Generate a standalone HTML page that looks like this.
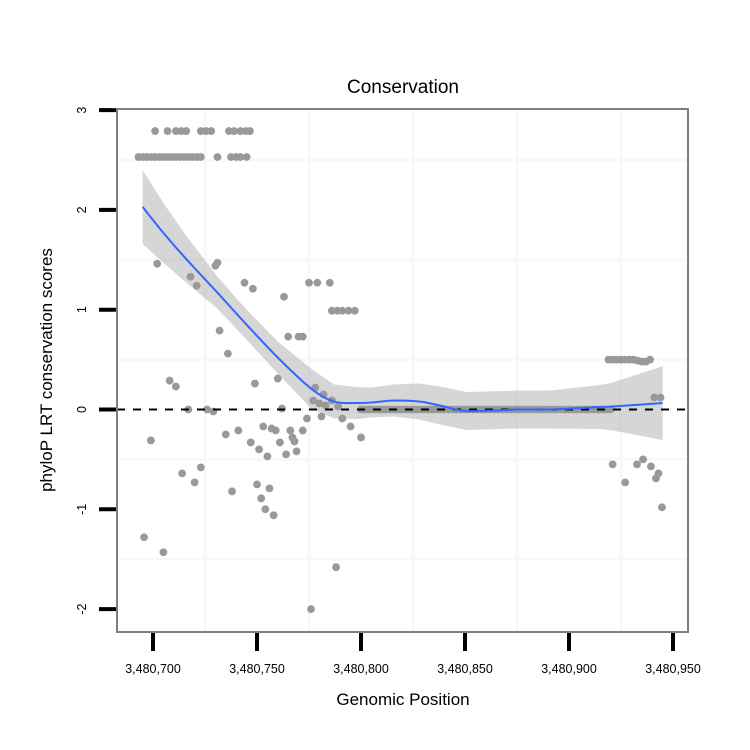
<!DOCTYPE html>
<html><head><meta charset="utf-8"><style>
body{margin:0;background:#fff;}
svg{display:block;font-family:"Liberation Sans",sans-serif;}
</style></head><body>
<svg id="chart" width="750" height="750"></svg>
<script>
const ptX=[3480693,3480695,3480697,3480699,3480701,3480703,3480705,3480707,3480709,3480711,3480713,3480715,3480717,3480719,3480721,3480723,3480731,3480737.5,3480740,3480742,3480745,
3480701,3480707,3480711,3480713.5,3480716,3480723,3480725.5,3480728,3480736.5,3480739,3480742,3480744.7,3480746.6,
3480702,3480730,3480731,3480718,3480721,3480744,3480748,3480763,3480775,3480779,3480785,3480786,3480788.5,3480791,3480794,3480797,3480732,3480736,3480765,3480770,3480772,
3480708,3480711,3480717,3480726,3480729,3480699,3480735,3480741,3480749,3480760,3480762,3480753,3480757,3480759,3480747,3480751,3480755,3480766,3480767,3480768,3480761,3480764,3480769,3480772,3480774,3480778,3480782,3480777,3480780,3480783,3480786,3480789,3480781,3480791,3480795,3480800,
3480723,3480714,3480720,3480738,3480750,3480756,3480752,3480754,3480758,3480695.7,3480705,3480788,3480776,
3480919,3480921,3480923,3480925,3480927,3480929,3480931,3480933,3480935,3480937,3480939,3480941,3480944,
3480921,3480932.7,3480935.6,3480939.4,3480943,3480941.8,3480927,3480944.7];
const ptY=[2.53,2.53,2.53,2.53,2.53,2.53,2.53,2.53,2.53,2.53,2.53,2.53,2.53,2.53,2.53,2.53,2.53,2.53,2.53,2.53,2.53,
2.79,2.79,2.79,2.79,2.79,2.79,2.79,2.79,2.79,2.79,2.79,2.79,2.79,
1.46,1.44,1.47,1.33,1.24,1.27,1.21,1.13,1.27,1.27,1.27,0.99,0.99,0.99,0.99,0.99,0.79,0.56,0.73,0.73,0.73,
0.29,0.23,0.0,0.0,-0.02,-0.31,-0.25,-0.21,0.26,0.31,0.01,-0.17,-0.19,-0.21,-0.33,-0.4,-0.47,-0.21,-0.28,-0.32,-0.33,-0.45,-0.42,-0.21,-0.09,0.22,0.15,0.09,0.06,0.04,0.09,0.03,-0.07,-0.09,-0.17,-0.28,
-0.58,-0.64,-0.73,-0.82,-0.75,-0.79,-0.89,-1.0,-1.06,-1.28,-1.43,-1.58,-2.0,
0.5,0.5,0.5,0.5,0.5,0.5,0.5,0.49,0.48,0.48,0.5,0.12,0.12,
-0.55,-0.55,-0.5,-0.57,-0.64,-0.69,-0.73,-0.98];
const zeroX=[3480800,3480802,3480804,3480806,3480808,3480810,3480812,3480814,3480816,3480818,3480820,3480822,3480824,3480826,3480828,3480830,3480832,3480834,3480836,3480838,3480840,3480842,3480844,3480846,3480848,3480850,3480852,3480854,3480856,3480858,3480860,3480862,3480864,3480866,3480868,3480870,3480872,3480874,3480876,3480878,3480880,3480882,3480884,3480886,3480888,3480890,3480892,3480894,3480896,3480898,3480900,3480902,3480904,3480906,3480908,3480910,3480912,3480914,3480916,3480918,3480920];
const smoothX=[3480695,3480705,3480715,3480731,3480745,3480760,3480776,3480787,3480798,3480805,3480816,3480828,3480838,3480851,3480876,3480891,3480915,3480921,3480945];
const smoothY=[2.03,1.77,1.53,1.17,0.85,0.52,0.21,0.08,0.065,0.07,0.09,0.08,0.04,-0.015,0.0,0.0,0.025,0.03,0.065];
const smoothSE=[0.37,0.3,0.24,0.16,0.15,0.16,0.2,0.17,0.16,0.15,0.16,0.18,0.19,0.19,0.19,0.19,0.22,0.24,0.37];
const xTicks=[3480700,3480750,3480800,3480850,3480900,3480950];
const xTickLabels=["3,480,700","3,480,750","3,480,800","3,480,850","3,480,900","3,480,950"];
const yTicks=[-2,-1,0,1,2,3];
const yTickLabels=["-2","-1","0","1","2","3"];

const NS="http://www.w3.org/2000/svg";
const svg=document.getElementById('chart');
const X=v=>153+(v-3480700)*2.08;
const Y=v=>409.5-v*99.8;
function mk(tag,attrs,parent){const e=document.createElementNS(NS,tag);for(const k in attrs)e.setAttribute(k,attrs[k]);(parent||svg).appendChild(e);return e;}
const L=117,T=109,R=688,B=632;
const grid=mk('g',{});


for(let i=0;i<xTicks.length-1;i++){const x=X((xTicks[i]+xTicks[i+1])/2);mk('line',{x1:x,x2:x,y1:T,y2:B,stroke:'#f8f8f8','stroke-width':3},grid);}
for(let i=0;i<yTicks.length-1;i++){const y=Y((yTicks[i]+yTicks[i+1])/2);mk('line',{x1:L,x2:R,y1:y,y2:y,stroke:'#f8f8f8','stroke-width':3},grid);}
const pts=mk('g',{fill:'#999'});


for(let i=0;i<ptX.length;i++){const c=mk('circle',{cx:X(ptX[i]),cy:Y(ptY[i]),r:3.9},pts);}
for(let i=0;i<zeroX.length;i++){const c=mk('circle',{cx:X(zeroX[i]),cy:Y(0),r:3.9},pts);}
let d='';
for(let i=0;i<smoothX.length;i++)d+=(i?'L':'M')+X(smoothX[i])+','+Y(smoothY[i]+smoothSE[i]);
for(let i=smoothX.length-1;i>=0;i--)d+='L'+X(smoothX[i])+','+Y(smoothY[i]-smoothSE[i]);
const band=mk('path',{d:d+'Z',fill:'#999','fill-opacity':0.4});


const hl=mk('line',{x1:L,x2:R,y1:Y(0),y2:Y(0),stroke:'#000','stroke-width':2,'stroke-dasharray':'8,8'});


const P=smoothX.map((x,i)=>[X(x),Y(smoothY[i])]);
let ld='M'+P[0][0]+','+P[0][1];
for(let i=0;i<P.length-1;i++){const p0=P[i-1]||P[i],p1=P[i],p2=P[i+1],p3=P[i+2]||p2;
ld+='C'+(p1[0]+(p2[0]-p0[0])/6)+','+(p1[1]+(p2[1]-p0[1])/6)+' '+(p2[0]-(p3[0]-p1[0])/6)+','+(p2[1]-(p3[1]-p1[1])/6)+' '+p2[0]+','+p2[1];}
const sl=mk('path',{d:ld,fill:'none',stroke:'#3366FF','stroke-width':2});


const bd=mk('rect',{x:L,y:T,width:R-L,height:B-T,fill:'none',stroke:'#7f7f7f','stroke-width':2});


for(let i=0;i<xTicks.length;i++){const x=X(xTicks[i]);
const t=mk('line',{x1:x,x2:x,y1:633,y2:651,stroke:'#000','stroke-width':4});


const tx=mk('text',{x:x,y:673,'text-anchor':'middle','font-size':12.5,fill:'#000'});tx.textContent=xTickLabels[i];

}
for(let i=0;i<yTicks.length;i++){const y=Y(yTicks[i]);
const t=mk('line',{x1:99,x2:116,y1:y,y2:y,stroke:'#000','stroke-width':4});


const tx=mk('text',{x:0,y:0,'text-anchor':'middle','font-size':12.5,fill:'#000',transform:`translate(86,${y}) rotate(-90)`});tx.textContent=yTickLabels[i];

}
</script>
<div style="position:absolute;left:0;top:0;width:750px;height:750px;pointer-events:none">
<svg width="750" height="750" style="font-family:'Liberation Sans',sans-serif">
<text x="403" y="93" text-anchor="middle" font-size="19">Conservation</text>
<text x="403" y="705" text-anchor="middle" font-size="17">Genomic Position</text>
<text transform="translate(52,370) rotate(-90)" text-anchor="middle" font-size="17">phyloP LRT conservation scores</text>
</svg></div>
</body></html>
